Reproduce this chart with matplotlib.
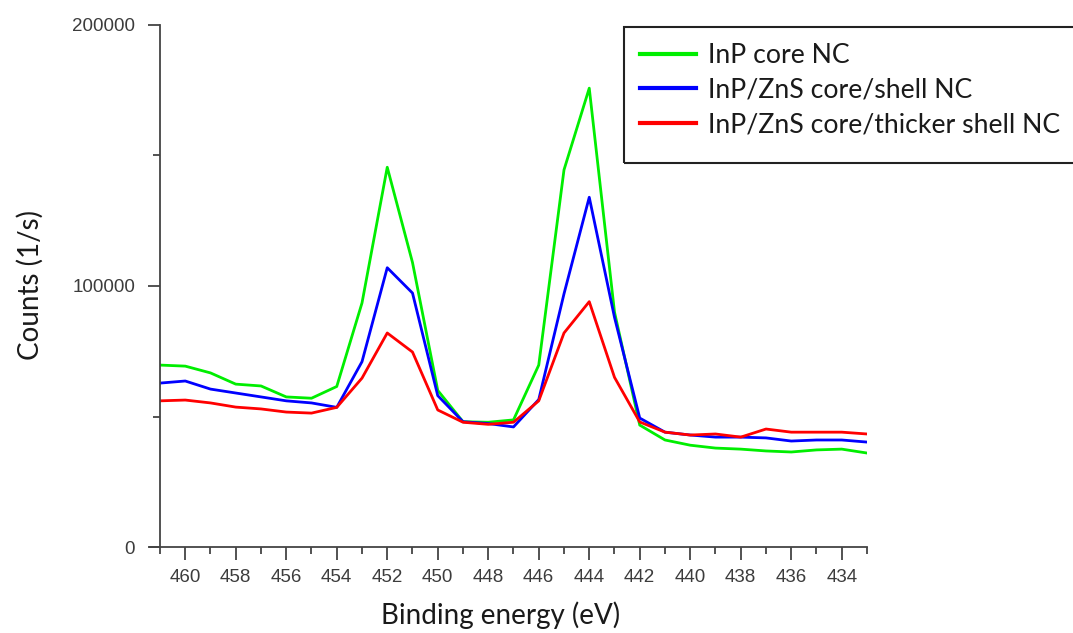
"""XPS In 3d region for InP core and InP/ZnS core/shell nanocrystals."""

import matplotlib.pyplot as plt
from matplotlib.lines import Line2D
from matplotlib.patches import Rectangle
from matplotlib.ticker import MultipleLocator

# binding energy (eV), 1 eV steps
energy = [461, 460, 459, 458, 457, 456, 455, 454, 453, 452, 451, 450, 449, 448, 447,
          446, 445, 444, 443, 442, 441, 440, 439, 438, 437, 436, 435, 434, 433]

# counts (1/s)
core = [69700, 69300, 66700, 62400, 61700, 57500, 57000, 61500, 93500, 145500,
        109000, 60000, 48000, 47800, 48700, 69700, 144500, 175800, 90000, 46700,
        41000, 39000, 37900, 37500, 36800, 36400, 37200, 37500, 36000]
core_shell = [62800, 63600, 60500, 59000, 57500, 56000, 55200, 53500, 71000, 107000,
              97300, 58000, 48000, 47300, 46000, 56500, 97000, 134000, 88000, 49400,
              44000, 42900, 42100, 42100, 41800, 40600, 41000, 41000, 40200]
thick_shell = [56000, 56300, 55200, 53600, 52900, 51700, 51300, 53500, 64700, 82000,
               74700, 52500, 47800, 47000, 47800, 56000, 82000, 94000, 65000, 47900,
               44000, 42900, 43300, 42100, 45200, 44000, 44000, 44000, 43300]

labels = ["InP core NC", "InP/ZnS core/shell NC", "InP/ZnS core/thicker shell NC"]
colors = ["#00ee00", "#0000ff", "#ff0000"]

text_font = "Lato"
tick_font = "Liberation Sans"
tick_color = "#3c3c3c"
spine_color = "#444444"

W, H = 1073, 633
fig = plt.figure(figsize=(W / 100, H / 100), dpi=100)
ax = fig.add_axes([160 / W, 1 - 547 / H, 707 / W, 522 / H])

for series, label, color in zip([core, core_shell, thick_shell], labels, colors):
    ax.plot(energy, series, color=color, lw=2.0, label=label)

ax.set_xlim(461, 433)
ax.set_ylim(0, 200000)
ax.xaxis.set_major_locator(MultipleLocator(2))
ax.xaxis.set_minor_locator(MultipleLocator(1))
ax.yaxis.set_major_locator(MultipleLocator(100000))
ax.yaxis.set_minor_locator(MultipleLocator(50000))

for side in ["top", "right"]:
    ax.spines[side].set_visible(False)
for side in ["left", "bottom"]:
    ax.spines[side].set_color(spine_color)
    ax.spines[side].set_linewidth(1.3)

# x axis line runs a little past the y axis
ax.add_line(Line2D([-0.014, 0], [0, 0], transform=ax.transAxes, color=spine_color,
                   lw=1.3, clip_on=False))

ax.tick_params(which="major", direction="out", length=9, width=1.3, color=spine_color,
               labelcolor=tick_color, labelsize=13.5)
ax.tick_params(which="minor", direction="out", length=5, width=1.3, color=spine_color)
ax.tick_params(axis="x", which="major", pad=7)
ax.tick_params(axis="y", which="major", pad=9)
for lbl in ax.get_xticklabels() + ax.get_yticklabels():
    lbl.set_fontfamily(tick_font)

ax.set_xlabel("Binding energy (eV)", fontsize=20, family=text_font, color="#1a1a1a")
ax.set_ylabel("Counts (1/s)", fontsize=20, family=text_font, color="#1a1a1a")
ax.xaxis.set_label_coords(0.482, -0.130)
ax.yaxis.set_label_coords(-0.184, 0.502)
ax.xaxis.label.set_va("center")
ax.yaxis.label.set_va("center")

# legend entries without frame; the box is drawn separately so it can be taller
leg = ax.legend(loc="upper left", bbox_to_anchor=(624 / W, 1 - 27 / H),
                bbox_transform=fig.transFigure, borderaxespad=0, frameon=False,
                prop={"family": text_font, "size": 19.2},
                handlelength=2.1, handletextpad=0.45, labelspacing=0.36, borderpad=0.6)
for line in leg.get_lines():
    line.set_linewidth(3)
for txt in leg.get_texts():
    txt.set_color("#1a1a1a")

fig.patches.append(Rectangle((624 / W, 1 - 163 / H), 480 / W, 136 / H,
                             transform=fig.transFigure, fill=False,
                             edgecolor="#222222", lw=1.5, figure=fig))

fig.savefig("out.png", dpi=100)
